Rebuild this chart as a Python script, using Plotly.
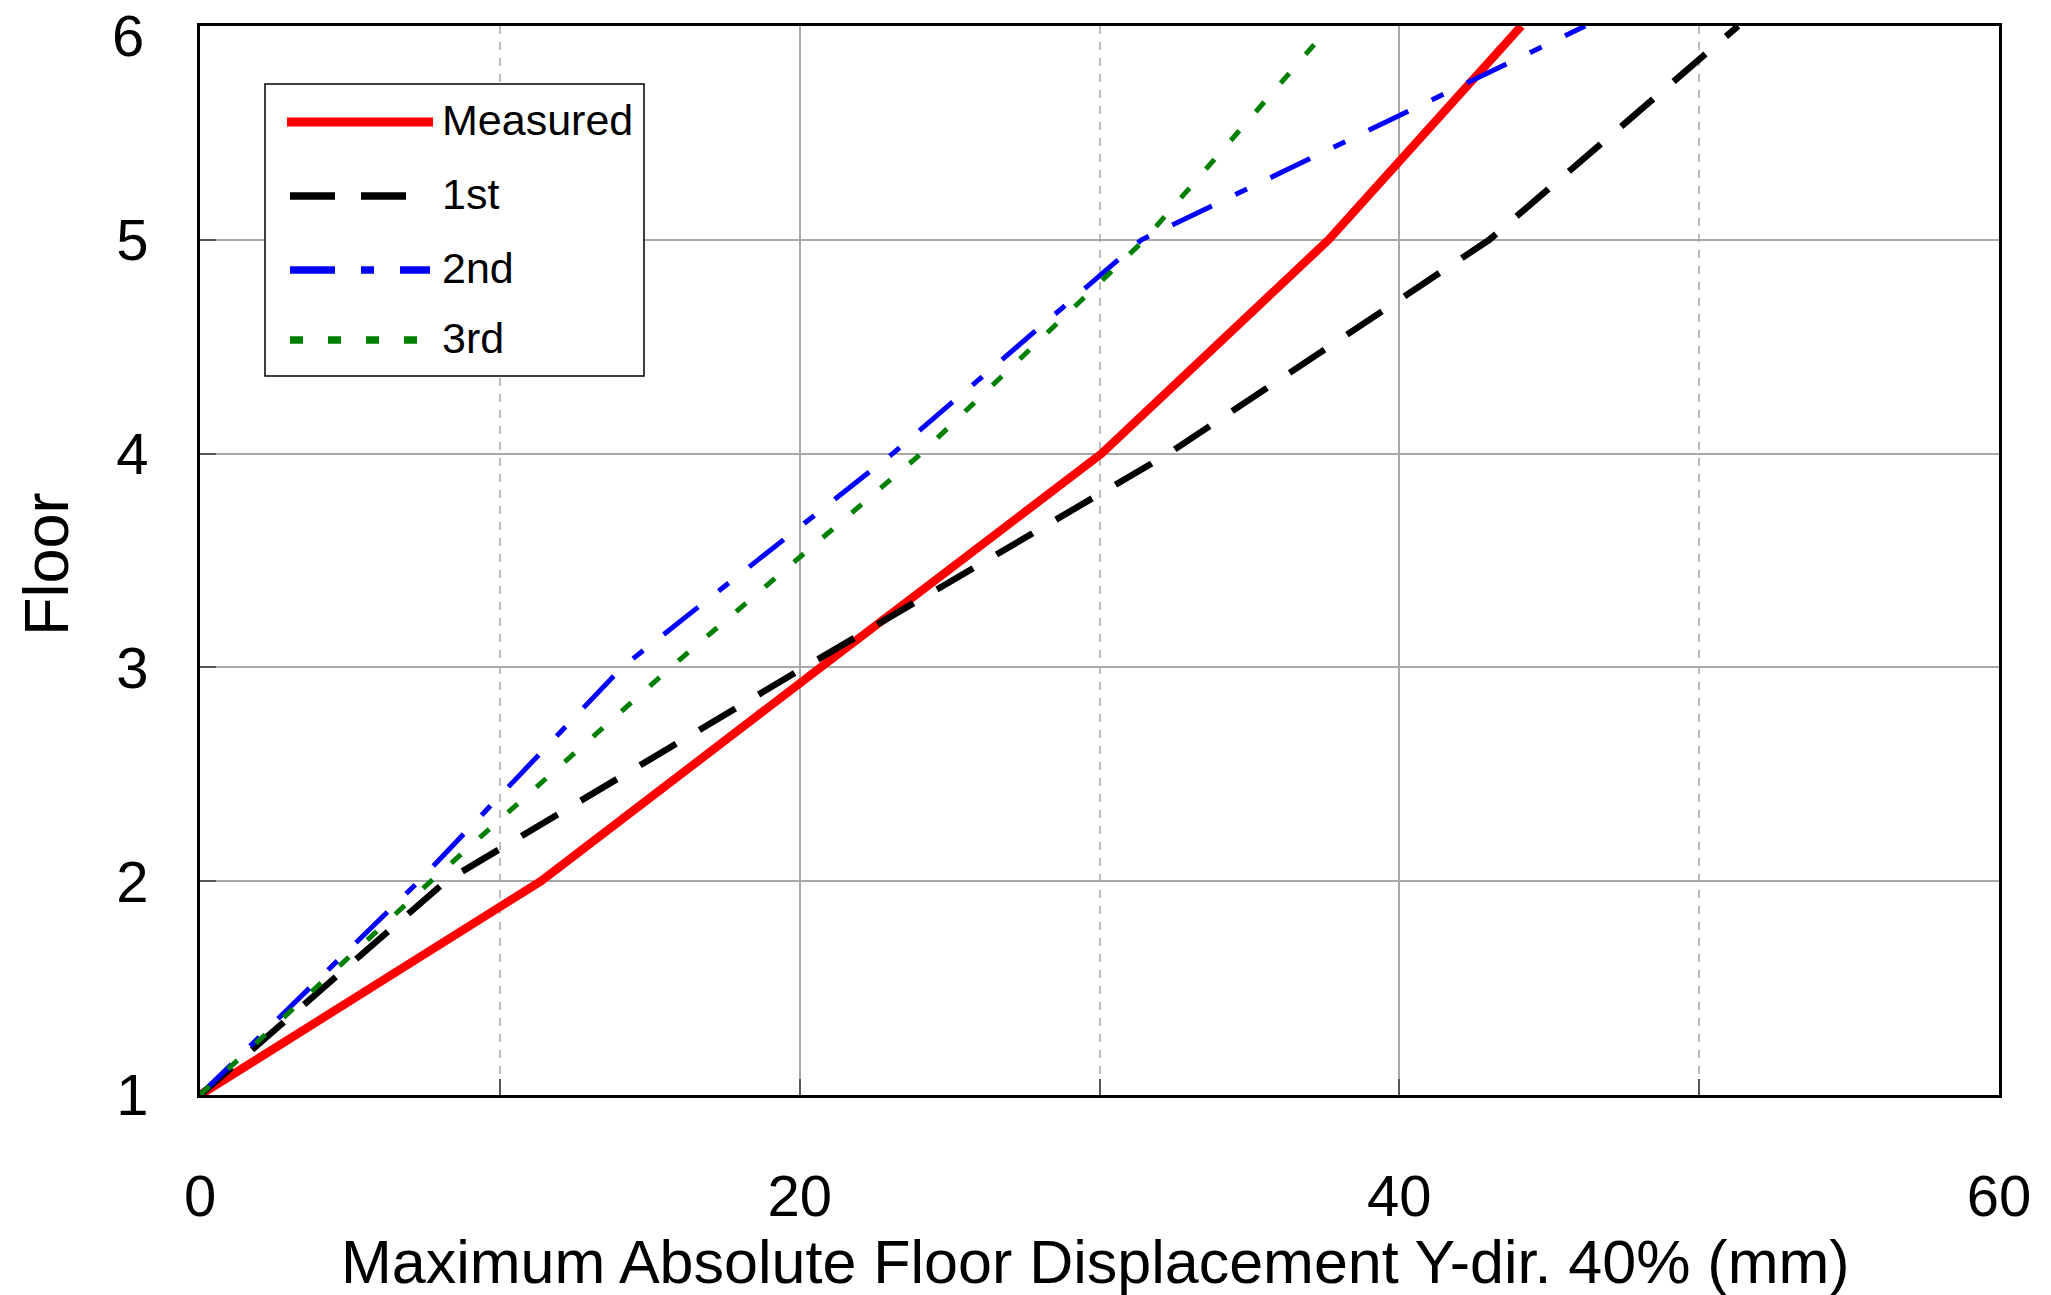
import plotly.graph_objects as go

# Floor levels and peak absolute floor displacement (mm) per series
floors = [1, 2, 3, 4, 5, 6]
measured = [0, 11.37, 20.7, 30.07, 37.64, 44.07]
mode_1st = [0, 8.2, 20.15, 32.3, 43.0, 51.3]
mode_2nd = [0, 7.3, 14.07, 23.1, 31.4, 46.2]
mode_3rd = [0, 7.7, 15.7, 24.05, 31.5, 37.7]

series_names = ["Measured", "1st", "2nd", "3rd"]
series_values = [measured, mode_1st, mode_2nd, mode_3rd]

x_tickvals = [0, 20, 40, 60]
y_tickvals = [1, 2, 3, 4, 5, 6]
y_ticktext = ["1", "2", "3", "4", "5", "6"]
x_title = "Maximum Absolute Floor Displacement Y-dir. 40% (mm)"
y_title = "Floor"

W, H = 2051, 1295
ML, MR, MT, MB = 200, 52, 26, 200
PW, PH = W - ML - MR, H - MT - MB

FONT = "Liberation Sans, Arial, sans-serif"
TICK_SIZE = 58

line_styles = {
    "Measured": dict(color="#ff0000", width=8.5, dash="solid"),
    "1st": dict(color="#000000", width=6.5, dash="42px,27px"),
    "2nd": dict(color="#0000ff", width=5, dash="44px,26px,13px,26px"),
    "3rd": dict(color="#008000", width=5, dash="13px,25px"),
}

# Legend swatches: (x start, x end, width, dash) in pixels
legend_swatch = {
    "Measured": (287, 433, 9, "solid"),
    "1st": (290, 407, 7.5, "45px,26px"),
    "2nd": (290, 430, 7.5, "45px,26px,13px,26px"),
    "3rd": (290, 420, 7.5, "13px,25px"),
}


def px(xp):
    """Pixel column -> paper x."""
    return (xp - ML) / PW


def py(yp):
    """Pixel row -> paper y."""
    return (H - MB - yp) / PH


fig = go.Figure()
for name, vals in zip(series_names, series_values):
    fig.add_trace(go.Scatter(
        x=vals, y=floors, mode="lines", name=name,
        line=line_styles[name], showlegend=False,
    ))

axis_common = dict(
    showline=True, linewidth=3, linecolor="black", mirror=True,
    zeroline=False, ticks="inside", ticklen=16, tickwidth=1.5,
    tickcolor="#555555", ticklabeloverflow="allow", automargin=False,
    tickfont=dict(family=FONT, size=TICK_SIZE, color="black"),
    gridcolor="#a8a8a8", gridwidth=1.5,
)

fig.update_xaxes(
    range=[0, 60], tickvals=x_tickvals, ticklabelstandoff=48,
    minor=dict(dtick=10, showgrid=True, griddash="8px,8px",
               gridcolor="#bcbcbc", gridwidth=1.5,
               ticks="inside", ticklen=16, tickcolor="#555555"),
    **axis_common,
)
# Top floor label is set separately so it stays inside the canvas
fig.update_yaxes(
    range=[1, 6], tickvals=y_tickvals,
    ticktext=y_ticktext[:-1] + [""], ticklabelstandoff=37,
    **axis_common,
)

annotations = [
    dict(text=y_ticktext[-1], x=px(146), y=y_tickvals[-1], yshift=-9,
         xref="paper", yref="y", showarrow=False,
         xanchor="right", yanchor="middle",
         font=dict(family=FONT, size=TICK_SIZE, color="black")),
    dict(text=x_title, x=px((ML + W - MR) / 2 - 4), y=py(1262),
         xref="paper", yref="paper", showarrow=False,
         xanchor="center", yanchor="middle",
         font=dict(family=FONT, size=61, color="black")),
    dict(text=y_title, x=px(46), y=py(564), textangle=-90,
         xref="paper", yref="paper", showarrow=False,
         xanchor="center", yanchor="middle",
         font=dict(family=FONT, size=63, color="black")),
]

# Legend panel
shapes = [dict(type="rect", xref="paper", yref="paper",
               x0=px(265), x1=px(644), y0=py(376), y1=py(84),
               line=dict(color="black", width=1.5), fillcolor="white",
               layer="above")]
legend_rows = [122, 196, 270, 340]
for name, row in zip(series_names, legend_rows):
    x0, x1, lw, dash = legend_swatch[name]
    shapes.append(dict(type="line", xref="paper", yref="paper",
                       x0=px(x0), x1=px(x1), y0=py(row), y1=py(row),
                       line=dict(color=line_styles[name]["color"], width=lw,
                                 dash=dash),
                       layer="above"))
    annotations.append(dict(text=name, x=px(440), y=py(row - 2),
                            xref="paper", yref="paper", showarrow=False,
                            xanchor="left", yanchor="middle",
                            font=dict(family=FONT, size=43, color="black")))

fig.update_layout(
    width=W, height=H,
    margin=dict(l=ML, r=MR, t=MT, b=MB, pad=0, autoexpand=False),
    paper_bgcolor="white", plot_bgcolor="white",
    shapes=shapes, annotations=annotations,
    showlegend=False,
)

fig.write_html("out.html")
